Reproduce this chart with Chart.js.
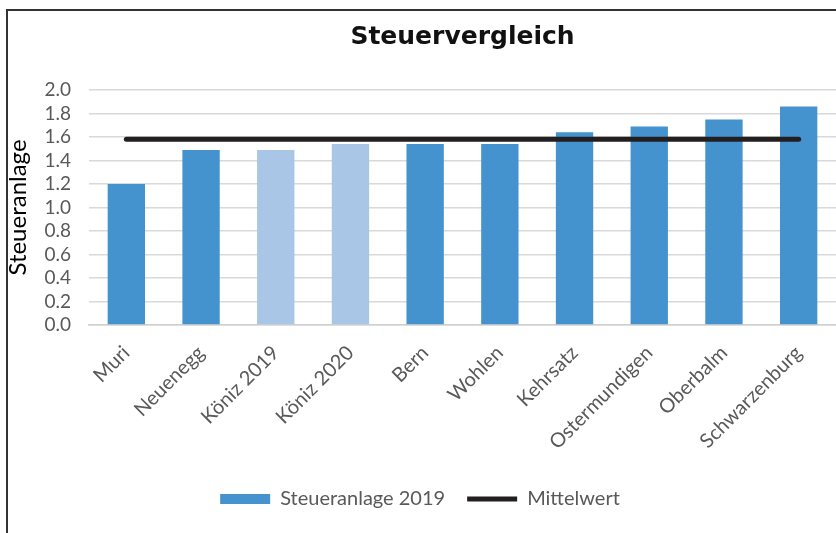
<!DOCTYPE html>
<html>
<head>
<meta charset="utf-8">
<script src="https://cdn.jsdelivr.net/npm/chart.js@4"></script>
<style>
  html, body { margin: 0; padding: 0; background: #fff; }
  #wrap { position: relative; width: 836px; height: 533px; overflow: hidden; }
  #frame { position: absolute; left: 6px; top: 9px; width: 900px; height: 600px;
           border-left: 2px solid #333; border-top: 2px solid #333; }
  #chart { position: absolute; left: 0; top: 0; }
</style>
</head>
<body>
<div id="wrap">
  <div id="frame"></div>
  <canvas id="chart" width="836" height="533"></canvas>
</div>
<script>
const gemeinden = ['Muri', 'Neuenegg', 'Köniz 2019', 'Köniz 2020', 'Bern', 'Wohlen', 'Kehrsatz', 'Ostermundigen', 'Oberbalm', 'Schwarzenburg'];
const steueranlage = [1.20, 1.49, 1.49, 1.54, 1.54, 1.54, 1.64, 1.69, 1.75, 1.86];
const mittelwert = [1.58, 1.58, 1.58, 1.58, 1.58, 1.58, 1.58, 1.58, 1.58, 1.58];
const yTicks = [0.0, 0.2, 0.4, 0.6, 0.8, 1.0, 1.2, 1.4, 1.6, 1.8, 2.0];

const blau = '#4493cf';
const hellblau = '#a9c6e7';
const barColors = gemeinden.map(g => g.startsWith('Köniz') ? hellblau : blau);
const grau = '#595959';
const font = 'Lato, "Open Sans", sans-serif';

const ctx = document.getElementById('chart').getContext('2d');
new Chart(ctx, {
  data: {
    labels: gemeinden,
    datasets: [
      {
        type: 'line', label: 'Mittelwert', data: mittelwert,
        borderColor: '#231f20', backgroundColor: '#231f20', borderWidth: 5,
        borderCapStyle: 'round', pointRadius: 0, pointStyle: 'line', order: 0
      },
      {
        type: 'bar', label: 'Steueranlage 2019', data: steueranlage,
        backgroundColor: barColors, borderWidth: 0, pointStyle: 'rect',
        barPercentage: 0.5, categoryPercentage: 1.0, order: 1
      }
    ]
  },
  options: {
    responsive: false,
    animation: false,
    layout: { padding: { left: 4, right: 0, top: 14, bottom: 14 } },
    plugins: {
      title: {
        display: true, text: 'Steuervergleich', color: '#111', fullSize: false,
        font: { family: '"DejaVu Sans", sans-serif', size: 25, weight: 'bold' },
        padding: { top: 8, bottom: 38 }
      },
      legend: {
        position: 'bottom',
        reverse: true,
        labels: {
          usePointStyle: true, pointStyleWidth: 50, boxHeight: 10,
          color: grau, padding: 22,
          font: { family: font, size: 20 }
        }
      },
      tooltip: { enabled: false }
    },
    scales: {
      x: {
        offset: true,
        grid: { display: false },
        border: { color: '#d0d0d0', width: 1.5 },
        afterFit: s => { s.height = 142; },
        ticks: {
          color: grau, minRotation: 45, maxRotation: 45, autoSkip: false, padding: 8,
          font: { family: font, size: 20 }
        }
      },
      y: {
        min: 0, max: 2.0,
        afterBuildTicks: s => { s.ticks = yTicks.map(v => ({ value: v })); },
        afterFit: s => { s.width = 85; },
        grid: { color: '#d9d9d9', lineWidth: 1.5, drawTicks: false },
        border: { display: false },
        ticks: {
          color: grau, padding: 18, autoSkip: false,
          font: { family: font, size: 19 },
          callback: v => Number(v).toFixed(1)
        },
        title: {
          display: true, text: 'Steueranlage', color: '#000',
          font: { family: font, size: 24 }, padding: { top: 0, bottom: 0 }
        }
      }
    }
  }
});
</script>
</body>
</html>
